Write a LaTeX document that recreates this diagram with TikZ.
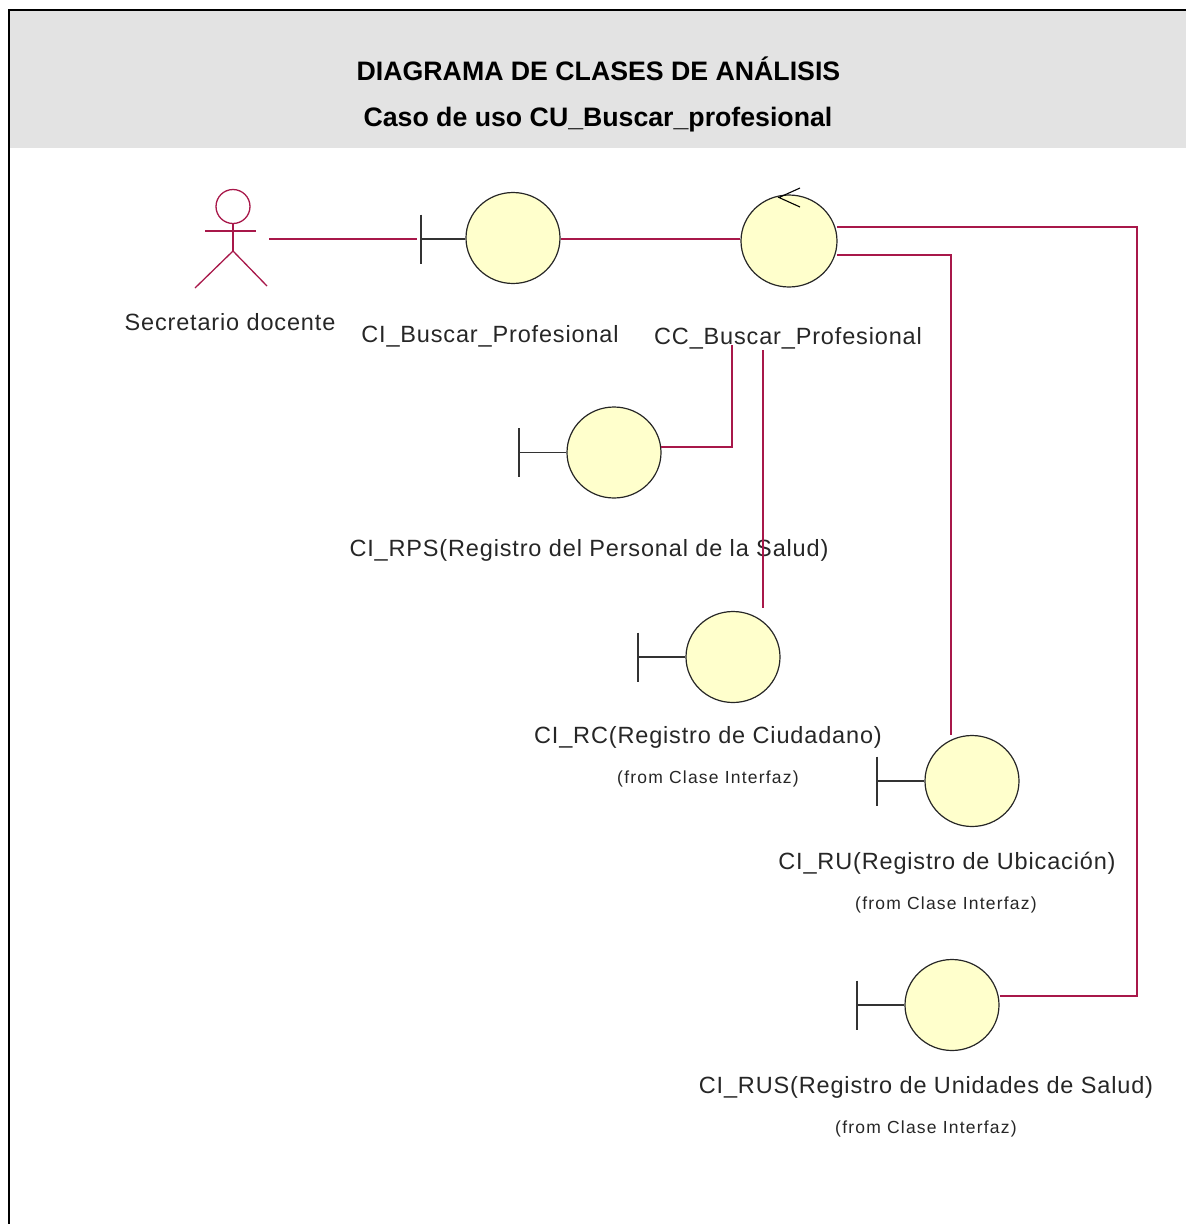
\documentclass[tikz,border=0pt]{standalone}
\usepackage{fontspec}
\setmainfont{Liberation Sans}
\definecolor{umlred}{HTML}{A8184A}
\definecolor{umlfill}{HTML}{FFFFCC}
\definecolor{band}{HTML}{E3E3E3}
\usetikzlibrary{shapes.geometric}
\tikzset{
  x=1pt,y=-1pt,
  cls/.style={ellipse,draw=black!85,fill=umlfill,line width=1.2pt,minimum width=94pt,minimum height=91pt,inner sep=0pt},
  assoc/.style={draw=umlred,line width=1.7pt},
  bound/.style={draw=black!80,line width=1.4pt},
  actorline/.style={draw=umlred,line width=1.3pt},
  lab/.style={inner sep=0pt,font=\fontsize{23.5}{26}\selectfont\addfontfeature{LetterSpace=3.6},text=black!85},
  from/.style={inner sep=0pt,font=\fontsize{17.5}{20}\selectfont\addfontfeature{LetterSpace=7},text=black!85},
  ttl/.style={inner sep=0pt,font=\fontsize{26.7}{30}\selectfont\bfseries,text=black},
}
\begin{document}
\begin{tikzpicture}
\useasboundingbox (0,0) rectangle (1186,1224);
\fill[band] (9,10) rectangle (1186,148);
\draw[black,line width=2pt] (8.5,1224) -- (8.5,9.5) -- (1186,9.5);
\node[ttl] (t1) at (598.5,69) {DIAGRAMA DE CLASES DE ANÁLISIS};
\node[ttl] (t2) at (598,120) {Caso de uso CU\_Buscar\_profesional};
% actor
\draw[actorline] (233,206.5) circle[radius=17];
\coordinate (hip) at (233,251);
\draw[actorline] (233,223.5) -- (hip);
\draw[actorline] (205,231) -- (256,231);
\draw[actorline] (195,288) -- (hip) -- (267,286);
\coordinate (actorEnd) at (269,239);
% classes
\node[cls] (b1) at (513,238) {};
\node[cls,minimum width=96pt,minimum height=92pt] (cc) at (789,241) {};
\node[cls] (rps) at (614,452.5) {};
\node[cls] (rc) at (733,657) {};
\node[cls] (ru) at (972,781) {};
\node[cls] (rus) at (952,1005) {};
% boundary marks
\coordinate (t1a) at (421,239);
\coordinate (t2a) at (519,452.5);
\coordinate (t3a) at (638,657);
\coordinate (t4a) at (877,781);
\coordinate (t5a) at (857,1005);
\draw[bound] (t1a) -- (t1a -| b1.west);
\draw[bound] (t2a) -- (rps.west);
\draw[bound] (t3a) -- (rc.west);
\draw[bound] (t4a) -- (ru.west);
\draw[bound] (t5a) -- (rus.west);
\foreach \c in {t1a,t2a,t3a,t4a,t5a}
  \draw[bound] ([yshift=24.5pt]\c) -- ([yshift=-24.5pt]\c);
% control arrow
\coordinate (ctip) at (779,197.5);
\draw[black,line width=1.1pt] (800,188) -- (ctip) -- (800,207);
% connector ends
\coordinate (a1) at (417,239);
\coordinate (c1) at (837,227);
\coordinate (c2) at (837,255);
\coordinate (r1) at (661,447);
\coordinate (r2) at (732,345);
\coordinate (r3) at (763,350);
\coordinate (r4) at (763,608);
\coordinate (r5) at (951,735);
\coordinate (r6) at (1000,996);
% labels
\node[lab] (lA) at (230,322) {Secretario docente};
\node[lab] (lB) at (490,336) {CI\_Buscar\_Profesional};
\node[lab] (lC) at (788,338) {CC\_Buscar\_Profesional};
\node[lab] (lD) at (589,550) {CI\_RPS(Registro del Personal de la Salud)};
\node[lab] (lE) at (708,737) {CI\_RC(Registro de Ciudadano)};
\node[from] (fE) at (708,779) {(from Clase Interfaz)};
\node[lab] (lF) at (947,863) {CI\_RU(Registro de Ubicación)};
\node[from] (fF) at (946,905) {(from Clase Interfaz)};
\node[lab] (lG) at (926,1087) {CI\_RUS(Registro de Unidades de Salud)};
\node[from] (fG) at (926,1129) {(from Clase Interfaz)};
% connectors
\draw[assoc] (actorEnd) -- (a1);
\draw[assoc] (t1a -| b1.east) -- (t1a -| cc.west);
\draw[assoc] (r1) -| (r2);
\draw[assoc] (r3) -- (r4);
\draw[assoc] (c2) -| (r5);
\draw[assoc] (c1) -- (1137,227) -- (1137,996) -- (r6);
\end{tikzpicture}
\end{document}
